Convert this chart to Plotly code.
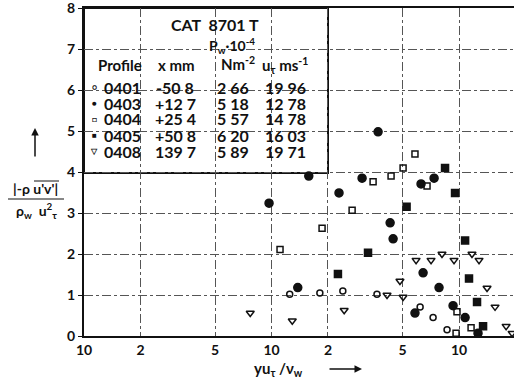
"""Shear stress profiles, CAT 8701 T."""

import plotly.graph_objects as go

# profile 0401 - open circles
x_0401 = [125, 181, 240, 365, 620, 727, 863]
y_0401 = [1.02, 1.05, 1.10, 1.02, 0.71, 0.45, 0.15]

# profile 0403 - filled circles
x_0403 = [97, 138, 158, 229, 304, 370, 429, 445, 627, 736, 643, 782, 929, 582, 1077, 1262]
y_0403 = [3.24, 1.18, 3.90, 3.49, 3.85, 4.98, 2.76, 2.37, 3.71, 3.85, 1.54, 1.18, 0.74, 0.56, 0.45, 0.07]

# profile 0404 - open squares
x_0404 = [111, 186, 269, 348, 434, 503, 582, 675, 975, 1159, 964]
y_0404 = [2.11, 2.63, 3.07, 3.76, 3.90, 4.10, 4.44, 3.66, 0.59, 0.20, 0.07]

# profile 0405 - filled squares
x_0405 = [226, 327, 525, 842, 952, 1077, 1130, 1247, 1343]
y_0405 = [1.51, 2.03, 3.15, 4.10, 3.49, 2.33, 1.40, 0.83, 0.24]

# profile 0408 - open triangles
x_0408 = [77, 129, 244, 413, 503, 484, 590, 709, 811, 940, 1172, 1278, 1410, 1556, 1782, 1918]
y_0408 = [0.56, 0.37, 0.63, 1.00, 0.95, 1.34, 1.85, 1.85, 2.00, 1.85, 2.00, 1.85, 1.17, 0.71, 0.24, 0.07]

# table in the upper left box
profiles = ["0401", "0403", "0404", "0405", "0408"]
x_mm = ["-50 8", "+12 7", "+25 4", "+50 8", "139 7"]
p_w = ["2 66", "5 18", "5 57", "6 20", "5 89"]
u_tau = ["19 96", "12 78", "14 78", "16 03", "19 71"]
symbols = ["○", "●", "□", "■", "▽"]

x_tickvals = [10, 20, 50, 100, 200, 500, 1000]
x_ticktext = ["10", "2", "5", "10", "2", "5", "10"]

W, H = 514, 385
L, R, T, B = 84, 0, 8, 49
INK = "#111111"
FONT = "Lato"


def px(x):
    return (x - L) / (W - L - R)


def py(y):
    return (H - B - y) / (H - T - B)


fig = go.Figure()

series = [
    (x_0401, y_0401, "circle-open", 6),
    (x_0403, y_0403, "circle", 8),
    (x_0404, y_0404, "square-open", 6),
    (x_0405, y_0405, "square", 7),
    (x_0408, y_0408, "triangle-down-open", 7),
]
for (xs, ys, sym, size), name in zip(series, profiles):
    fig.add_scatter(
        x=xs, y=ys, mode="markers", name=name,
        marker=dict(symbol=sym, size=size, color=INK, line=dict(color=INK, width=1.5)),
    )

annotations = []


def text(x, y, s, size=16, anchor="center", pad=1):
    annotations.append(dict(
        x=px(x), y=py(y), xref="paper", yref="paper", text=s, showarrow=False,
        xanchor=anchor, yanchor="middle", borderpad=pad,
        font=dict(family=FONT, size=size, color=INK, weight="bold"),
    ))


def arrow(x, y, dx, dy):
    annotations.append(dict(
        x=px(x), y=py(y), xref="paper", yref="paper", ax=dx, ay=dy,
        showarrow=True, arrowhead=2, arrowsize=1, arrowwidth=1.5, arrowcolor=INK, text="",
    ))


text(215, 24, "CAT  8701 T")
text(232, 45, "P<sub>w</sub>·10<sup>-4</sup>", size=14)
text(120, 65, "Profile", size=15)
text(176, 65, "x mm", size=15)
text(238, 63, "Nm<sup>-2</sup>", size=15)
text(285, 65, "u<sub>τ</sub> ms<sup>-1</sup>", size=15)
for i in range(len(profiles)):
    row_y = 87 + 16 * i
    text(94, row_y, symbols[i], size=8, pad=0)
    text(103, row_y, profiles[i], anchor="left", pad=0)
    text(175, row_y, x_mm[i])
    text(233, row_y, p_w[i])
    text(285, row_y, u_tau[i])

# axis titles
text(35, 189, "|-ρ u'v'|", size=14)
text(36, 210, "ρ<sub>w</sub>  u<sup>2</sup><sub>τ</sub>", size=14)
text(278, 369, "yu<sub>τ</sub> /ν<sub>w</sub>", size=15)
arrow(35, 128, 0, 30)
arrow(362, 369, -34, 0)

shapes = [
    # table box
    dict(type="rect", xref="paper", yref="paper", x0=px(84), x1=px(328), y0=py(173), y1=py(8),
         fillcolor="white", line=dict(color=INK, width=2), layer="between"),
    # fraction bar and overline
    dict(type="line", xref="paper", yref="paper", x0=px(8), x1=px(64), y0=py(199), y1=py(199),
         line=dict(color=INK, width=1.2)),
    dict(type="line", xref="paper", yref="paper", x0=px(34), x1=px(59), y0=py(181), y1=py(181),
         line=dict(color=INK, width=1)),
]

tickfont = dict(family=FONT, size=14, color=INK, weight="bold")

fig.update_layout(
    width=W, height=H,
    margin=dict(l=L, r=R, t=T, b=B),
    paper_bgcolor="white", plot_bgcolor="white",
    showlegend=False,
    font=dict(family=FONT, size=13, color=INK),
    annotations=annotations,
    shapes=shapes,
    xaxis=dict(
        type="log", range=[1, 3.293], tickvals=x_tickvals, ticktext=x_ticktext,
        showline=True, linecolor=INK, linewidth=2, mirror=True, tickfont=tickfont,
        showgrid=True, gridcolor="#555555", griddash="dashdot", gridwidth=1,
        ticks="", zeroline=False, ticklabeloverflow="allow",
    ),
    yaxis=dict(
        range=[0, 8], dtick=1, showline=True, linecolor=INK, linewidth=2, tickfont=tickfont,
        showgrid=True, gridcolor="#555555", griddash="dashdot", gridwidth=1,
        ticks="outside", ticklen=4, tickcolor=INK, zeroline=False, ticklabeloverflow="allow",
    ),
)

fig.write_html(
    "out.html",
    config={"displayModeBar": False},
    post_script="document.body.style.margin='0';",
)
